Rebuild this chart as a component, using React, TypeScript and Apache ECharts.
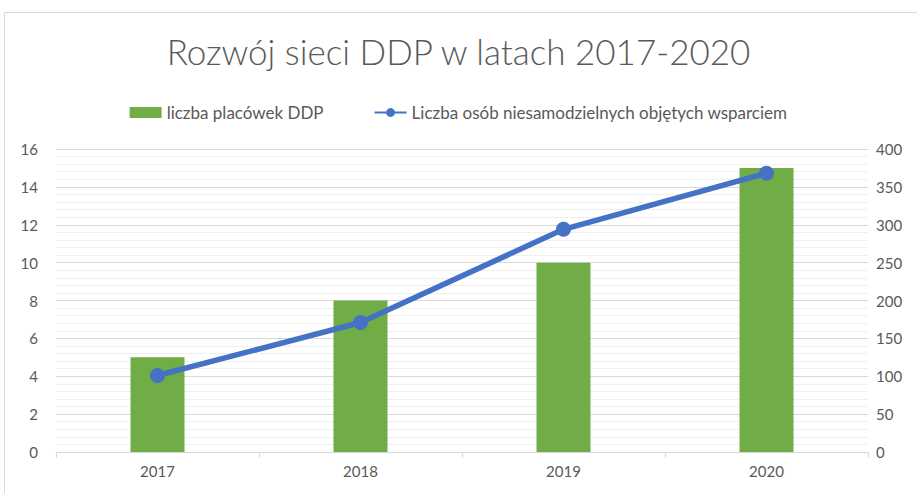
import React, { useEffect, useRef } from "react";
import * as echarts from "echarts";

const categories = ["2017", "2018", "2019", "2020"];
const placowki = [5, 8, 10, 15];
const osoby = [101, 171, 294, 368];
const titleText = "Rozwój sieci DDP w latach 2017-2020";
const barName = "liczba placówek DDP";
const lineName = "Liczba osób niesamodzielnych objętych wsparciem";

export default function App() {
  const ref = useRef<HTMLDivElement>(null);
  useEffect(() => {
    document.body.style.margin = "0";
    const chart = echarts.init(ref.current!, null, { renderer: "svg" });
    const font = "Lato, 'Noto Sans', sans-serif";
    chart.setOption({
      animation: false,
      backgroundColor: "#ffffff",
      textStyle: { fontFamily: font },
      title: {
        text: titleText,
        left: "center",
        top: 28,
        textStyle: { fontFamily: font, fontSize: 35, fontWeight: 300, color: "#595959" },
      },
      legend: {
        top: 99,
        left: "center",
        itemGap: 50,
        itemWidth: 32,
        itemHeight: 11,
        textStyle: { fontFamily: font, fontSize: 17, color: "#595959" },
        data: [
          { name: barName, icon: "rect" },
          { name: lineName },
        ],
      },
      graphic: [
        {
          type: "rect",
          shape: { x: 4.5, y: 12.5, width: 960, height: 600 },
          style: { fill: "none", stroke: "#d9d9d9", lineWidth: 1 },
          silent: true,
        },
      ],
      grid: { left: 56, right: 49, top: 149, bottom: 41, containLabel: false },
      xAxis: {
        type: "category",
        data: categories,
        boundaryGap: true,
        axisLine: { show: true, lineStyle: { color: "#d9d9d9", width: 1 } },
        axisTick: { show: true, length: 6, lineStyle: { color: "#d9d9d9" } },
        axisLabel: { margin: 11, fontSize: 15, color: "#595959", fontFamily: font },
      },
      yAxis: [
        {
          type: "value",
          min: 0,
          max: 16,
          interval: 2,
          axisLine: { show: false },
          axisTick: { show: false },
          axisLabel: { margin: 18, fontSize: 15, color: "#595959", fontFamily: font },
          splitLine: { show: true, lineStyle: { color: "#d9d9d9", width: 1 } },
          minorTick: { show: false, splitNumber: 5 },
          minorSplitLine: { show: true, lineStyle: { color: "#efefef", width: 1 } },
        },
        {
          type: "value",
          min: 0,
          max: 400,
          interval: 50,
          position: "right",
          axisLine: { show: false },
          axisTick: { show: false },
          axisLabel: { margin: 8, fontSize: 15, color: "#595959", fontFamily: font },
          splitLine: { show: false },
        },
      ],
      series: [
        {
          name: barName,
          type: "bar",
          data: placowki,
          yAxisIndex: 0,
          barWidth: 54,
          itemStyle: { color: "#70AD47" },
        },
        {
          name: lineName,
          type: "line",
          data: osoby,
          yAxisIndex: 1,
          symbol: "circle",
          symbolSize: 15,
          lineStyle: { color: "#4472C4", width: 5.5 },
          itemStyle: { color: "#4472C4" },
        },
      ],
    });
    return () => chart.dispose();
  }, []);
  return <div ref={ref} style={{ width: 917, height: 493 }} />;
}
